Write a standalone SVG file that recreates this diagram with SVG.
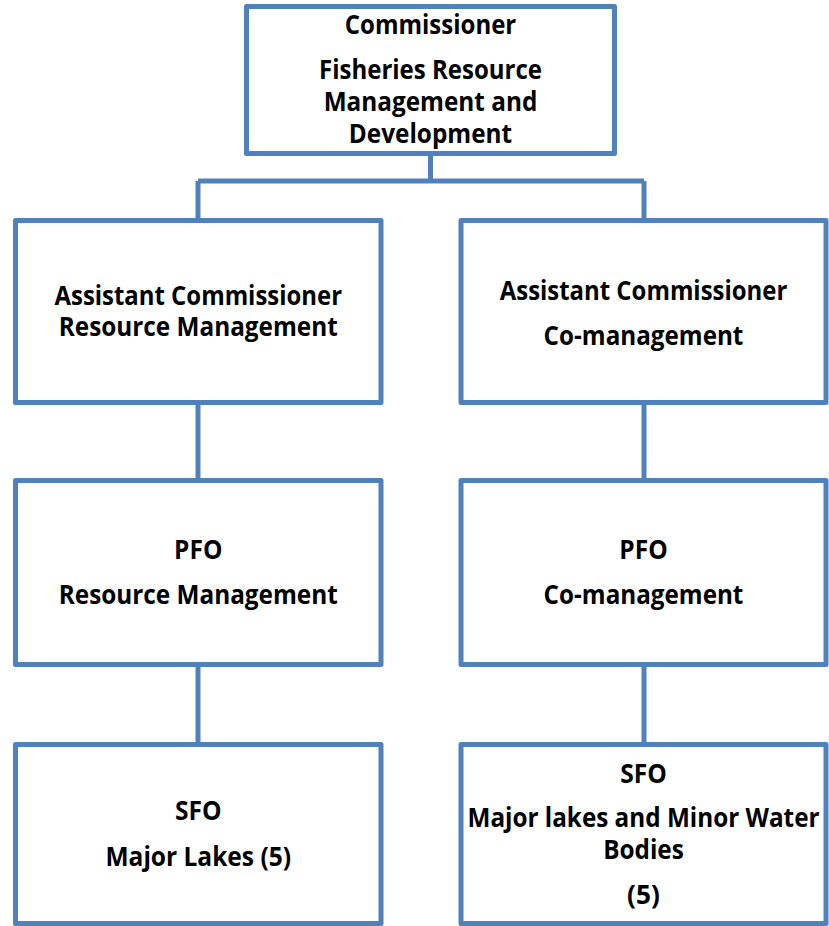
<svg xmlns="http://www.w3.org/2000/svg" width="829" height="926" viewBox="0 0 829 926">
  <style>
    .box { fill: #ffffff; stroke: #4f81bd; stroke-width: 5; stroke-linejoin: round; }
    .link { fill: none; stroke: #4f81bd; stroke-width: 5; stroke-linecap: butt; }
    text { font-family: "Open Sans", "Liberation Sans", sans-serif; font-weight: bold; font-size: 26px; fill: #000000; text-anchor: middle; }
  </style>
  <rect width="829" height="926" fill="#ffffff"/>

  <!-- connectors -->
  <g id="connectors">
    <path class="link" d="M430.5 153.5 V181"/>
    <path class="link" d="M198 181 H644"/>
    <path class="link" d="M198 181 V220.5"/>
    <path class="link" d="M644 181 V220.5"/>
    <path class="link" d="M198 402.5 V480.5"/>
    <path class="link" d="M644 402.5 V480.5"/>
    <path class="link" d="M198 664.5 V744.5"/>
    <path class="link" d="M644 664.5 V744.5"/>
  </g>

  <!-- top: commissioner -->
  <g id="commissioner">
    <rect class="box" x="246.5" y="6.5" width="368" height="147"/>
    <text x="430.5" y="34" textLength="171.5" lengthAdjust="spacingAndGlyphs">Commissioner</text>
    <text x="430.5" y="79" textLength="223" lengthAdjust="spacingAndGlyphs">Fisheries Resource</text>
    <text x="430.5" y="111" textLength="213.7" lengthAdjust="spacingAndGlyphs">Management and</text>
    <text x="430.5" y="142.5" textLength="163.3" lengthAdjust="spacingAndGlyphs">Development</text>
  </g>

  <!-- second level -->
  <g id="ac-resource-management">
    <rect class="box" x="15.5" y="220.5" width="365.5" height="182"/>
    <text x="198.25" y="304.5" textLength="287.5" lengthAdjust="spacingAndGlyphs">Assistant Commissioner</text>
    <text x="198.25" y="336" textLength="279" lengthAdjust="spacingAndGlyphs">Resource Management</text>
  </g>
  <g id="ac-co-management">
    <rect class="box" x="461" y="220.5" width="365" height="182"/>
    <text x="643.5" y="299.5" textLength="287.5" lengthAdjust="spacingAndGlyphs">Assistant Commissioner</text>
    <text x="643.5" y="344.5" textLength="199.8" lengthAdjust="spacingAndGlyphs">Co-management</text>
  </g>

  <!-- third level -->
  <g id="pfo-resource-management">
    <rect class="box" x="15.5" y="480.5" width="365.5" height="184"/>
    <text x="198.25" y="559" textLength="48.3" lengthAdjust="spacingAndGlyphs">PFO</text>
    <text x="198.25" y="604" textLength="279" lengthAdjust="spacingAndGlyphs">Resource Management</text>
  </g>
  <g id="pfo-co-management">
    <rect class="box" x="461" y="480.5" width="365" height="184"/>
    <text x="643.5" y="559" textLength="48.3" lengthAdjust="spacingAndGlyphs">PFO</text>
    <text x="643.5" y="604" textLength="199.8" lengthAdjust="spacingAndGlyphs">Co-management</text>
  </g>

  <!-- fourth level -->
  <g id="sfo-major-lakes">
    <rect class="box" x="15.5" y="744.5" width="365.5" height="179"/>
    <text x="198.25" y="820" textLength="46.6" lengthAdjust="spacingAndGlyphs">SFO</text>
    <text x="198.25" y="866" textLength="185.5" lengthAdjust="spacingAndGlyphs">Major Lakes (5)</text>
  </g>
  <g id="sfo-minor-water-bodies">
    <rect class="box" x="461" y="744.5" width="365" height="179"/>
    <text x="643.5" y="783" textLength="46.6" lengthAdjust="spacingAndGlyphs">SFO</text>
    <text x="643.5" y="827" textLength="352" lengthAdjust="spacingAndGlyphs">Major lakes and Minor Water</text>
    <text x="643.5" y="859" textLength="80.7" lengthAdjust="spacingAndGlyphs">Bodies</text>
    <text x="643.5" y="904" textLength="32.8" lengthAdjust="spacingAndGlyphs">(5)</text>
  </g>
</svg>
